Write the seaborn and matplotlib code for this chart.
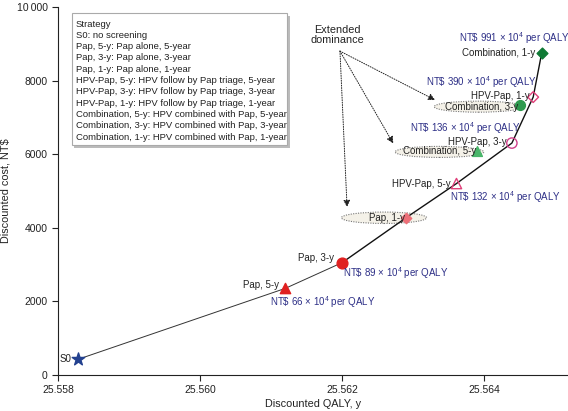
import matplotlib
matplotlib.use("Agg")
import matplotlib.pyplot as plt
import seaborn as sns
import pandas as pd
from matplotlib.patches import Ellipse, Rectangle
from matplotlib.ticker import FuncFormatter

# ---------------- data ----------------
strategies = ["S0", "Pap, 5-y", "Pap, 3-y", "Pap, 1-y", "HPV-Pap, 5-y",
              "Combination, 5-y", "HPV-Pap, 3-y", "Combination, 3-y",
              "HPV-Pap, 1-y", "Combination, 1-y"]
qaly = [25.55828, 25.56120, 25.56200, 25.56290, 25.56361,
        25.56390, 25.56439, 25.56451, 25.56469, 25.56481]
cost = [420, 2350, 3050, 4270, 5200,
        6080, 6300, 7330, 7550, 8750]
frontier = ["S0", "Pap, 5-y", "Pap, 3-y", "Pap, 1-y", "HPV-Pap, 5-y",
            "HPV-Pap, 3-y", "HPV-Pap, 1-y", "Combination, 1-y"]
dominated = ["Pap, 1-y", "Combination, 5-y", "Combination, 3-y"]
icer_labels = ["NT\\$ 66 \u00d7 10$^4$ per QALY", "NT\\$ 89 \u00d7 10$^4$ per QALY",
               "NT\\$ 132 \u00d7 10$^4$ per QALY", "NT\\$ 136 \u00d7 10$^4$ per QALY",
               "NT\\$ 390 \u00d7 10$^4$ per QALY", "NT\\$ 991 \u00d7 10$^4$ per QALY"]
legend_lines = ["Strategy",
                "S0: no screening",
                "Pap, 5-y: Pap alone, 5-year",
                "Pap, 3-y: Pap alone, 3-year",
                "Pap, 1-y: Pap alone, 1-year",
                "HPV-Pap, 5-y: HPV follow by Pap triage, 5-year",
                "HPV-Pap, 3-y: HPV follow by Pap triage, 3-year",
                "HPV-Pap, 1-y: HPV follow by Pap triage, 1-year",
                "Combination, 5-y: HPV combined with Pap, 5-year",
                "Combination, 3-y: HPV combined with Pap, 3-year",
                "Combination, 1-y: HPV combined with Pap, 1-year"]
x_ticks = [25.558, 25.560, 25.562, 25.564]
y_ticks = [0, 2000, 4000, 6000, 8000, 10000]

df = pd.DataFrame({"strategy": strategies, "qaly": qaly, "cost": cost})
pos = {s: (q, c) for s, q, c in zip(strategies, qaly, cost)}

# ---------------- style ----------------
sns.set_theme(style="ticks")
plt.rcParams["font.family"] = ["Liberation Sans", "DejaVu Sans"]
plt.rcParams["mathtext.fontset"] = "custom"
plt.rcParams["mathtext.rm"] = "Liberation Sans"
plt.rcParams["mathtext.it"] = "Liberation Sans"
NAVY = "#2e3087"
TXT = "#222222"

fig = plt.figure(figsize=(5.68, 4.11), dpi=100)
ax = fig.add_axes([0.102, 0.088, 0.898, 0.895])

fr = df.set_index("strategy").loc[frontier].reset_index()
sns.lineplot(data=fr.iloc[:3], x="qaly", y="cost", sort=False, color="#333333",
             linewidth=0.7, ax=ax, zorder=2)
sns.lineplot(data=fr.iloc[2:], x="qaly", y="cost", sort=False, color="#111111",
             linewidth=1.0, ax=ax, zorder=2)

# dominated ellipses (behind markers)
ell_specs = {"Pap, 1-y": (25.56259, 4270, 0.00120, 310),
             "Combination, 5-y": (25.56337, 6060, 0.00125, 300),
             "Combination, 3-y": (25.56392, 7290, 0.00125, 300)}
for s in dominated:
    cx, cy, w, h = ell_specs[s]
    ax.add_patch(Ellipse((cx, cy), w, h, facecolor="#f4f1e8", edgecolor="#777777",
                         linestyle=(0, (1, 1.2)), linewidth=0.8, zorder=1.5))

markers = {
    "S0": dict(marker="*", s=90, color="#23418f", edgecolor="#23418f"),
    "Pap, 5-y": dict(marker="^", s=55, color="#e02020", edgecolor="#e02020"),
    "Pap, 3-y": dict(marker="o", s=60, color="#e02020", edgecolor="#e02020"),
    "Pap, 1-y": dict(marker="D", s=28, color="#ec6f78", edgecolor="#ec6f78"),
    "HPV-Pap, 5-y": dict(marker="^", s=55, color="none", edgecolor="#e0407a"),
    "HPV-Pap, 3-y": dict(marker="o", s=55, color="none", edgecolor="#d0408a"),
    "HPV-Pap, 1-y": dict(marker="D", s=30, color="none", edgecolor="#e0407a"),
    "Combination, 5-y": dict(marker="^", s=50, color="#49b66a", edgecolor="#49b66a"),
    "Combination, 3-y": dict(marker="o", s=50, color="#2e9a4e", edgecolor="#2e9a4e"),
    "Combination, 1-y": dict(marker="D", s=30, color="#0f7a35", edgecolor="#0f7a35"),
}
for s in strategies:
    m = markers[s]
    sub = df[df["strategy"] == s]
    sns.scatterplot(data=sub, x="qaly", y="cost", marker=m["marker"], s=m["s"],
                    color=m["color"], edgecolor=m["edgecolor"], linewidth=1.0,
                    ax=ax, zorder=3, legend=False)

# point labels (offsets in pixels)
lab_off = {"S0": (-6, 0), "Pap, 5-y": (-6, 3), "Pap, 3-y": (-8, 5),
           "Pap, 1-y": (-1, 0), "HPV-Pap, 5-y": (-6, 0),
           "Combination, 5-y": (-1, 0), "HPV-Pap, 3-y": (-5, 1),
           "Combination, 3-y": (-2, -2), "HPV-Pap, 1-y": (-4, 1),
           "Combination, 1-y": (-6, 0)}
for s in strategies:
    ax.annotate(s, xy=pos[s], xytext=lab_off[s], textcoords="offset pixels",
                ha="right", va="center", fontsize=7.0, color=TXT, zorder=4)

# ICER labels
icer_pos = [(25.56172, 1980), (25.56276, 2770), (25.56430, 4840),
            (25.56373, 6710), (25.56396, 7960), (25.56442, 9160)]
for t, (x, y) in zip(icer_labels, icer_pos):
    ax.text(x, y, t, ha="center", va="center", fontsize=7.0, color=NAVY, zorder=4)

# extended dominance
ax.text(25.56194, 9240, "Extended\ndominance", ha="center", va="center",
        fontsize=7.8, color=TXT, linespacing=1.1)
start = (25.56197, 8800)
targets = [(25.56207, 4560), (25.56272, 6290), (25.56331, 7470)]
for tx, ty in targets:
    ax.annotate("", xy=(tx, ty), xytext=start,
                arrowprops=dict(arrowstyle="-|>", linestyle=(0, (1, 1.5)),
                                color="#222222", lw=0.7, mutation_scale=10,
                                shrinkA=0, shrinkB=0))

# strategy legend box
fig.patches.append(Rectangle((0.130, 0.640), 0.380, 0.321, transform=fig.transFigure,
                             facecolor="#bbbbbb", edgecolor="none", zorder=0))
fig.patches.append(Rectangle((0.126, 0.647), 0.380, 0.321, transform=fig.transFigure,
                             facecolor="white", edgecolor="#aaaaaa", linewidth=0.8,
                             zorder=1))
for i, line in enumerate(legend_lines):
    fig.text(0.133, 0.9416 - i * 0.0275, line, ha="left", va="center",
             fontsize=6.8, color=TXT, zorder=2)

# axes
ax.set_xlim(25.558, 25.56518)
ax.set_ylim(0, 10000)
ax.set_xticks(x_ticks)
ax.set_yticks(y_ticks)
ax.xaxis.set_major_formatter(FuncFormatter(lambda v, p: f"{v:.3f}"))
ax.yaxis.set_major_formatter(FuncFormatter(
    lambda v, p: f"{int(round(v)):,}".replace(",", "\u2009") if v >= 10000 else f"{int(round(v))}"))
ax.tick_params(axis="both", labelsize=7.5, length=4, width=0.8, colors="#222222")
ax.set_xlabel("Discounted QALY, y", fontsize=7.8, color=TXT, labelpad=3)
ax.set_ylabel("Discounted cost, NT$", fontsize=7.8, color=TXT, labelpad=4)
sns.despine(ax=ax)
for sp in ["left", "bottom"]:
    ax.spines[sp].set_linewidth(0.8)
    ax.spines[sp].set_color("#222222")

fig.savefig("out.png", dpi=100)
